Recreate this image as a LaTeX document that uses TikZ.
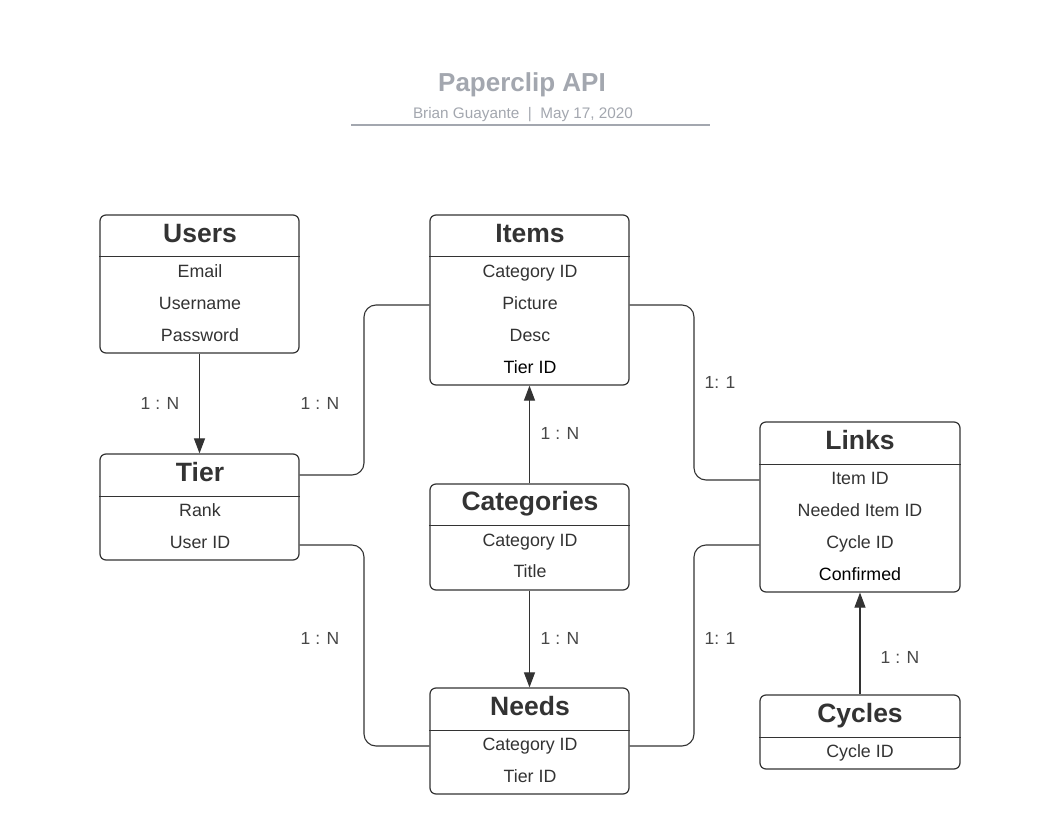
\documentclass[tikz,border=0pt]{standalone}
\usepackage{fontspec}
\setmainfont{Liberation Sans}
\usetikzlibrary{arrows.meta}
\definecolor{ink}{HTML}{333333}
\definecolor{hdr}{HTML}{A3A7AF}
\tikzset{
  box/.style={draw=ink, line width=1.2pt, rounded corners=6pt, fill=white, inner sep=0pt},
  sep/.style={draw=ink, line width=1pt},
  ttl/.style={font=\fontsize{26.5}{30}\selectfont\bfseries, text=ink, inner sep=0pt, text height=19pt, text depth=0pt},
  fld/.style={font=\fontsize{17.8}{20}\selectfont, text=ink, inner sep=0pt, text height=12.7pt, text depth=0pt},
  fldk/.style={fld, text=black},
  lbl/.style={font=\fontsize{17.5}{20}\selectfont, text=ink!90, inner sep=0pt, text height=12.5pt, text depth=0pt},
  conn/.style={draw=ink, line width=1.1pt, rounded corners=12pt},
  arr/.style={conn, -{Triangle[length=15pt,width=11pt]}},
}
\begin{document}
\begin{tikzpicture}[x=1pt,y=-1pt]
\useasboundingbox[fill=white] (0,0) rectangle (1060,834);

% header
\node[font=\fontsize{26}{30}\selectfont\bfseries, text=hdr, inner sep=0pt, text height=18.6pt, text depth=0pt] (title) at (522,82) {Paperclip API};
\node[font=\fontsize{15.3}{18}\selectfont, text=hdr, inner sep=0pt, text height=11pt, text depth=0pt] (sub) at (523,113) {Brian Guayante\ \ |\ \ May 17, 2020};
\coordinate (hl) at (351,125);
\coordinate (hr) at (710,125);
\draw[draw=hdr, line width=2pt] (hl) -- (hr);

% Users
\node[box, minimum width=199pt, minimum height=138pt] (users) at (199.5,284) {};
\draw[sep] (users.west |- 0,257) -- (users.east |- 0,257);
\node[ttl] (usersT) at (200,233) {Users};
\node[fld] (usersA) at (200,271) {Email};
\node[fld] (usersB) at (200,303) {Username};
\node[fld] (usersC) at (200,335) {Password};

% Items
\node[box, minimum width=199pt, minimum height=170pt] (items) at (529.5,300) {};
\draw[sep] (items.west |- 0,257) -- (items.east |- 0,257);
\node[ttl] (itemsT) at (530,233) {Items};
\node[fld] (itemsA) at (530,271) {Category ID};
\node[fld] (itemsB) at (530,303) {Picture};
\node[fld] (itemsC) at (530,335) {Desc};
\node[fldk] (itemsD) at (530,367) {Tier ID};

% Tier
\node[box, minimum width=199pt, minimum height=106pt] (tier) at (199.5,507) {};
\draw[sep] (tier.west |- 0,496) -- (tier.east |- 0,496);
\node[ttl] (tierT) at (200,472) {Tier};
\node[fld] (tierA) at (200,510) {Rank};
\node[fld] (tierB) at (200,542) {User ID};

% Categories
\node[box, minimum width=199pt, minimum height=106pt] (cats) at (529.5,537) {};
\draw[sep] (cats.west |- 0,525) -- (cats.east |- 0,525);
\node[ttl] (catsT) at (530,501) {Categories};
\node[fld] (catsA) at (530,540) {Category ID};
\node[fld] (catsB) at (530,571) {Title};

% Links
\node[box, minimum width=200pt, minimum height=170pt] (links) at (860,507) {};
\draw[sep] (links.west |- 0,464) -- (links.east |- 0,464);
\node[ttl] (linksT) at (860,440) {Links};
\node[fld] (linksA) at (860,478) {Item ID};
\node[fld] (linksB) at (860,510) {Needed Item ID};
\node[fld] (linksC) at (860,542) {Cycle ID};
\node[fldk] (linksD) at (860,574) {Confirmed};

% Needs
\node[box, minimum width=199pt, minimum height=106pt] (needs) at (529.5,741) {};
\draw[sep] (needs.west |- 0,730) -- (needs.east |- 0,730);
\node[ttl] (needsT) at (530,706) {Needs};
\node[fld] (needsA) at (530,744) {Category ID};
\node[fld] (needsB) at (530,776) {Tier ID};

% Cycles
\node[box, minimum width=200pt, minimum height=74pt] (cycles) at (860,732) {};
\draw[sep] (cycles.west |- 0,737) -- (cycles.east |- 0,737);
\node[ttl] (cyclesT) at (860,713) {Cycles};
\node[fld] (cyclesA) at (860,751) {Cycle ID};

% connectors
\draw[arr] (users.south) -- (tier.north);
\draw[arr] (cats.north) -- (items.south);
\draw[arr] (cats.south) -- (needs.north);
\draw[arr] (cycles.north) -- (links.south);

\draw[conn] ([yshift=32pt]tier.east) -- (364,475) -- (364,305) -- ([yshift=-5pt]items.west);
\draw[conn] ([yshift=-38pt]tier.east) -- (364,545) -- (364,746) -- ([yshift=-5pt]needs.west);
\draw[conn] ([yshift=-5pt]items.east) -- (694,305) -- (694,480) -- ([yshift=27pt]links.west);
\draw[conn] ([yshift=-5pt]needs.east) -- (694,746) -- (694,545) -- ([yshift=-38pt]links.west);

% labels
\node[lbl] (l1) at (160,403) {1 : N};
\node[lbl] (l2) at (320,403) {1 : N};
\node[lbl] (l3) at (560,433) {1 : N};
\node[lbl] (l4) at (720,382) {1: 1};
\node[lbl] (l5) at (320,638) {1 : N};
\node[lbl] (l6) at (560,638) {1 : N};
\node[lbl] (l7) at (720,638) {1: 1};
\node[lbl] (l8) at (900,657) {1 : N};
\end{tikzpicture}
\end{document}
